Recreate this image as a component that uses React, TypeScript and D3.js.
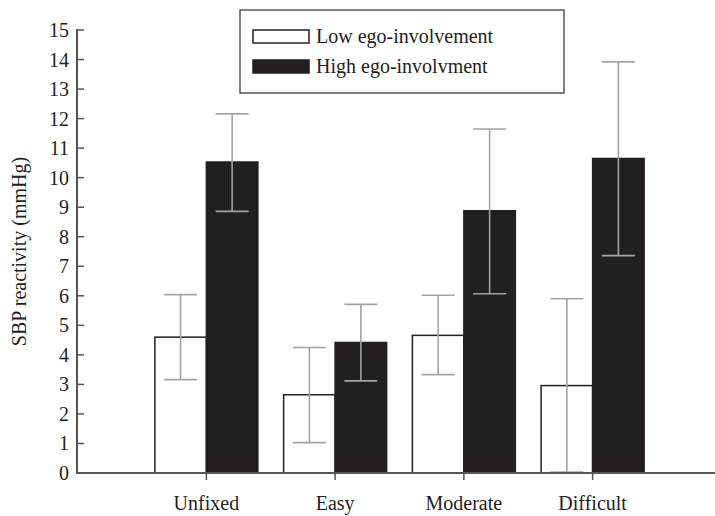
import React from 'react';
import * as d3 from 'd3';

const categories = ['Unfixed', 'Easy', 'Moderate', 'Difficult'];
const seriesNames = ['Low ego-involvement', 'High ego-involvment'];
const lowMeans = [4.6, 2.65, 4.66, 2.96];
const lowUpper = [6.04, 4.25, 6.02, 5.9];
const lowLower = [3.16, 1.03, 3.33, 0.03];
const highMeans = [10.53, 4.42, 8.88, 10.65];
const highUpper = [12.16, 5.71, 11.65, 13.92];
const highLower = [8.86, 3.12, 6.07, 7.36];
const yTicks = d3.range(0, 16);

const font = "'Liberation Serif', 'DejaVu Serif', 'Times New Roman', serif";
const ink = '#231f20';
const axisColor = '#555';
const errColor = '#a3a3a3';
const txt = { fontFamily: font, fontSize: '20px' };

export default function App() {
  const width = 715;
  const height = 516;
  const axisX = 77;
  const axisY = 473;

  const y = d3.scaleLinear().domain([0, 15]).range([axisY, 30]);
  const x0 = d3.scaleBand<string>().domain(categories).range([142, 657]).padding(0);
  const x1 = d3.scaleBand<string>().domain(seriesNames).range([0, x0.bandwidth()]).paddingInner(0).paddingOuter(0.25);

  const series = [
    { name: seriesNames[0], means: lowMeans, upper: lowUpper, lower: lowLower, fill: '#fff' },
    { name: seriesNames[1], means: highMeans, upper: highUpper, lower: highLower, fill: ink },
  ];
  const cap = 16.5;

  return (
    <svg width={width} height={height} style={{ position: 'absolute', left: 0, top: 0 }}>
      <rect width={width} height={height} fill="#fff" />

      {/* bars */}
      {series.map((s) => (
        <g key={s.name}>
          {categories.map((c, i) => {
            const bx = (x0(c) ?? 0) + (x1(s.name) ?? 0);
            return (
              <rect
                key={c}
                x={bx}
                y={y(s.means[i])}
                width={x1.bandwidth()}
                height={y(0) - y(s.means[i])}
                fill={s.fill}
                stroke={ink}
                strokeWidth={1.5}
              />
            );
          })}
        </g>
      ))}

      {/* error bars */}
      {series.map((s) => (
        <g key={s.name + '-err'} stroke={errColor} strokeWidth={1.6}>
          {categories.map((c, i) => {
            const cx = (x0(c) ?? 0) + (x1(s.name) ?? 0) + x1.bandwidth() / 2;
            return (
              <g key={c}>
                <line x1={cx} x2={cx} y1={y(s.upper[i])} y2={y(s.lower[i])} />
                <line x1={cx - cap} x2={cx + cap} y1={y(s.upper[i])} y2={y(s.upper[i])} />
                <line x1={cx - cap} x2={cx + cap} y1={y(s.lower[i])} y2={y(s.lower[i])} />
              </g>
            );
          })}
        </g>
      ))}

      {/* y axis */}
      <line x1={axisX} x2={axisX} y1={y(15) - 1} y2={axisY} stroke={axisColor} strokeWidth={2} />
      {yTicks.map((t) => (
        <g key={t}>
          <line x1={axisX} x2={axisX + 7} y1={y(t)} y2={y(t)} stroke={axisColor} strokeWidth={1.5} />
          <text x={69} y={y(t)} dy="0.35em" textAnchor="end" style={txt} fill={ink}>
            {t}
          </text>
        </g>
      ))}
      <text
        transform={`translate(26, ${(y(0) + y(15)) / 2}) rotate(-90)`}
        textAnchor="middle"
        style={txt}
        fill={ink}
      >
        SBP reactivity (mmHg)
      </text>

      {/* x axis */}
      <line x1={axisX - 1} x2={width} y1={axisY} y2={axisY} stroke={axisColor} strokeWidth={2} />
      {categories.map((c) => {
        const cx = (x0(c) ?? 0) + x0.bandwidth() / 2;
        return (
          <g key={c}>
            <line x1={cx} x2={cx} y1={axisY} y2={axisY + 7} stroke={axisColor} strokeWidth={1.5} />
            <text x={cx} y={510} textAnchor="middle" style={txt} fill={ink}>
              {c}
            </text>
          </g>
        );
      })}

      {/* legend */}
      <g>
        <rect x={240} y={10} width={324} height={83} fill="#fff" stroke={axisColor} strokeWidth={1.5} />
        {series.map((s, i) => (
          <g key={s.name} transform={`translate(253, ${30 + i * 30})`}>
            <rect x={0} y={0} width={56} height={13} fill={s.fill} stroke={ink} strokeWidth={1.5} />
            <text x={63} y={13} style={txt} fill={ink}>
              {s.name}
            </text>
          </g>
        ))}
      </g>
    </svg>
  );
}
